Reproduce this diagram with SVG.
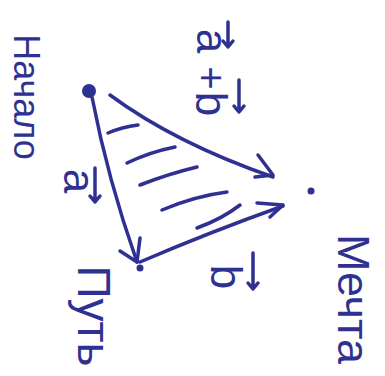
<svg xmlns="http://www.w3.org/2000/svg" width="385" height="376" viewBox="0 0 385 376">
<style>
.ln{fill:none;stroke:#2f3192;stroke-width:3.5;stroke-linecap:round;stroke-linejoin:round}
.tx{fill:#2f3192;font-family:"Liberation Sans","DejaVu Sans",sans-serif;text-anchor:middle}
.dot{fill:#2f3192}
</style>
<rect width="385" height="376" fill="#ffffff"/>
<g id="connectors">
<path class="ln" d="M92,97 Q108,180 137,262"/>
<path class="ln" d="M120,251 L137,262 L140,238"/>
<path class="ln" d="M110,95 Q175,143 273,177"/>
<path class="ln" d="M258,155 L273,175 L255,177"/>
<path class="ln" d="M140,262 Q210,232 283,206"/>
<path class="ln" d="M257,203 L283,205 L270,217"/>
<path class="ln" d="M197,228 Q222,219 240,205"/>
</g>
<g id="hatching">
<path class="ln" d="M108,133 Q122,127 138,125"/>
<path class="ln" d="M127,163 Q150,152 175,147"/>
<path class="ln" d="M140,185 Q168,174 197,167"/>
<path class="ln" d="M162,210 Q195,196 227,192"/>
</g>
<g id="node-start">
<circle class="dot" cx="89" cy="91" r="7"/>
<text class="tx" font-size="36" transform="translate(14,97) rotate(90)">Начало</text>
</g>
<g id="node-path">
<circle class="dot" cx="140" cy="268" r="3.5"/>
<text class="tx" font-size="46" transform="translate(78,316) rotate(90)">Путь</text>
</g>
<g id="node-end">
<circle class="dot" cx="311" cy="191" r="3.5"/>
<text class="tx" font-size="45" transform="translate(338,299) rotate(90)">Мечта</text>
</g>
<g id="label-a">
<text class="tx" font-size="44" transform="translate(64,181) rotate(90)">a</text>
<path class="ln" d="M95,168 L95,202 M90,196 L95,202 L100,196"/>
</g>
<g id="label-b">
<text class="tx" font-size="44" transform="translate(211,277) rotate(90)">b</text>
<path class="ln" d="M253,253 L253,289 M248,283 L253,289 L258,283"/>
</g>
<g id="label-ab">
<text class="tx" font-size="44" transform="translate(197,41) rotate(90)">a</text>
<path class="ln" d="M228,22 L228,47 M223,41 L228,47 L233,41"/>
<text class="tx" font-size="40" transform="translate(197,78) rotate(90)">+</text>
<text class="tx" font-size="44" transform="translate(196,104) rotate(90)">b</text>
<path class="ln" d="M239,80 L239,112 M234,106 L239,112 L244,106"/>
</g>
</svg>
